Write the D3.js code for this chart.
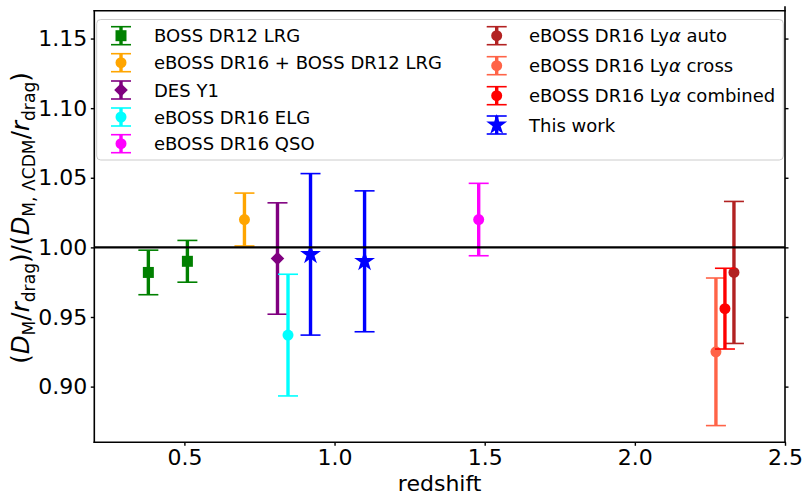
<!DOCTYPE html>
<html><head><meta charset="utf-8">
<script src="https://cdn.jsdelivr.net/npm/d3@7"></script>
<style>body{margin:0;background:#fff} svg{display:block;font-family:"DejaVu Sans",sans-serif}</style>
</head><body><svg id="c" width="810" height="500"></svg>
<script>
// ---- data ----
const datasets = ["BOSS DR12 LRG", "eBOSS DR16 + BOSS DR12 LRG", "DES Y1", "eBOSS DR16 ELG", "eBOSS DR16 QSO",
  "eBOSS DR16 Lyα auto", "eBOSS DR16 Lyα cross", "eBOSS DR16 Lyα combined", "This work"];
const redshift = [[0.38, 0.51], [0.70], [0.81], [0.845], [1.48], [2.33], [2.27], [2.30], [0.92, 1.10]];
const ratio    = [[0.982, 0.990], [1.020], [0.992], [0.937], [1.020], [0.982], [0.925], [0.956], [0.995, 0.990]];
const ratioErr = [[0.016, 0.015], [0.019], [0.040], [0.0437], [0.026], [0.051], [0.053], [0.029], [0.058, 0.0506]];
const xTicks = [0.5, 1.0, 1.5, 2.0, 2.5];
const yTicks = [0.90, 0.95, 1.00, 1.05, 1.10, 1.15];
const refValue = 1.0;

// ---- styles (per dataset) ----
const colors = ["#008000", "#ffa500", "#800080", "#00ffff", "#ff00ff", "#b22222", "#ff6347", "#ff0000", "#0000ff"];
const shapes = ["square", "circle", "diamond", "circle", "circle", "circle", "circle", "circle", "star"];

const svg = d3.select("#c");
const L = 94.3, R = 785, T = 10.7, B = 442.3;
const x = d3.scaleLinear().domain([0.2, 2.5]).range([L, R]);
const y = d3.scaleLinear().domain([0.86, 1.17]).range([B, T]);

function markerPath(shape) {
  if (shape === "square") return d3.symbol(d3.symbolSquare, 121)();
  if (shape === "circle") return d3.symbol(d3.symbolCircle, Math.PI * 5.5 * 5.5)();
  if (shape === "star") return d3.symbol(d3.symbolStar, 135)();
  if (shape === "diamond") { const r = 6.8; return `M0,${-r}L${r},0L0,${r}L${-r},0Z`; }
}

// axes
const fs = 22;
const gx = svg.append("g").attr("transform", `translate(0,${B})`)
  .call(d3.axisBottom(x).tickValues(xTicks).tickFormat(d3.format(".1f")).tickSize(3.5).tickPadding(3.5));
const gy = svg.append("g").attr("transform", `translate(${L},0)`)
  .call(d3.axisLeft(y).tickValues(yTicks).tickFormat(d3.format(".2f")).tickSize(3.5).tickPadding(3.5));
const gr = svg.append("g").attr("transform", `translate(${R},0)`)
  .call(d3.axisRight(y).tickValues(yTicks).tickFormat("").tickSize(3.5));
[gx, gy, gr].forEach(g => {
  g.select(".domain").remove();
  g.selectAll(".tick line").attr("stroke", "#000").attr("stroke-width", 1.4);
  g.selectAll(".tick text").attr("fill", "#000").style("font-size", fs + "px").style("font-family", "DejaVu Sans");
});

// error bars
const plot = svg.append("g");
datasets.forEach((name, i) => {
  redshift[i].forEach((z, j) => {
    const v = ratio[i][j], e = ratioErr[i][j];
    const cx = x(z);
    const g = plot.append("g");
    g.append("line").attr("x1", cx).attr("x2", cx).attr("y1", y(v - e)).attr("y2", y(v + e))
      .attr("stroke", colors[i]).attr("stroke-width", 3.4);
    [v - e, v + e].forEach(c => g.append("line").attr("x1", cx - 10).attr("x2", cx + 10)
      .attr("y1", y(c)).attr("y2", y(c)).attr("stroke", colors[i]).attr("stroke-width", 1.6));
    g.append("path").attr("d", markerPath(shapes[i])).attr("transform", `translate(${cx},${y(v)})`)
      .attr("fill", colors[i]);
  });
});

// reference line
svg.append("line").attr("x1", L).attr("x2", R).attr("y1", y(refValue)).attr("y2", y(refValue))
  .attr("stroke", "#000").attr("stroke-width", 2.2);

// spines
const sp = svg.append("g").attr("stroke", "#000").attr("stroke-width", 1.6).attr("stroke-linecap", "square");
sp.append("line").attr("x1", L).attr("x2", L).attr("y1", T).attr("y2", B);
sp.append("line").attr("x1", L).attr("x2", R).attr("y1", B).attr("y2", B);
sp.append("line").attr("x1", L).attr("x2", R).attr("y1", T).attr("y2", T);
sp.append("line").attr("x1", R).attr("x2", R).attr("y1", 7).attr("y2", B);

// legend
const lg = svg.append("g");
lg.append("rect").attr("x", 96.7).attr("y", 19.5).attr("width", 686.6).attr("height", 140.5).attr("rx", 4)
  .attr("fill", "#fff").attr("fill-opacity", 0.8).attr("stroke", "#cccccc").attr("stroke-width", 1);
const colX = [121, 496.7], textX = [154, 529];
const rowY = [[35.7, 62.7, 90, 117, 143.7], [35.7, 65.7, 95.7, 125]];
datasets.forEach((name, i) => {
  const col = i < 5 ? 0 : 1, row = i < 5 ? i : i - 5;
  const cx = colX[col], cy = rowY[col][row];
  const g = lg.append("g");
  g.append("line").attr("x1", cx).attr("x2", cx).attr("y1", cy - 9).attr("y2", cy + 9)
    .attr("stroke", colors[i]).attr("stroke-width", 3.4);
  [cy - 9, cy + 9].forEach(c => g.append("line").attr("x1", cx - 10).attr("x2", cx + 10)
    .attr("y1", c).attr("y2", c).attr("stroke", colors[i]).attr("stroke-width", 1.6));
  g.append("path").attr("d", markerPath(shapes[i])).attr("transform", `translate(${cx},${cy})`).attr("fill", colors[i]);
  const t = g.append("text").attr("x", textX[col]).attr("y", cy + 6.5).style("font-size", "18px").attr("fill", "#000");
  const parts = name.split("α");
  t.append("tspan").text(parts[0]);
  if (parts.length > 1) {
    t.append("tspan").style("font-style", "italic").text("α");
    t.append("tspan").text(parts[1]);
  }
});

// x label
svg.append("text").attr("x", (L + R) / 2).attr("y", 491).attr("text-anchor", "middle")
  .style("font-size", fs + "px").text("redshift");

// y label (math)
const yfs = 24.5;
const segs = [["(", "n"], ["D", "i"], ["M", "s"], ["/", "n"], ["r", "i"], ["drag", "s"], [")/(", "n"],
  ["D", "i"], ["M,\u00a0ΛCDM", "s"], ["/", "n"], ["r", "i"], ["drag", "s"], [")", "n"]];
const yl = svg.append("text").attr("transform", `translate(29,218) rotate(-90)`)
  .attr("text-anchor", "middle").style("font-size", yfs + "px");
let shifted = false;
segs.forEach(([txt, st]) => {
  const ts = yl.append("tspan").text(txt);
  if (st === "i") ts.style("font-style", "italic");
  if (st === "s") { ts.style("font-size", (yfs * 0.7) + "px"); if (!shifted) { ts.attr("dy", 5.5); shifted = true; } }
  else if (shifted) { ts.attr("dy", -5.5); shifted = false; }
});
</script></body></html>
